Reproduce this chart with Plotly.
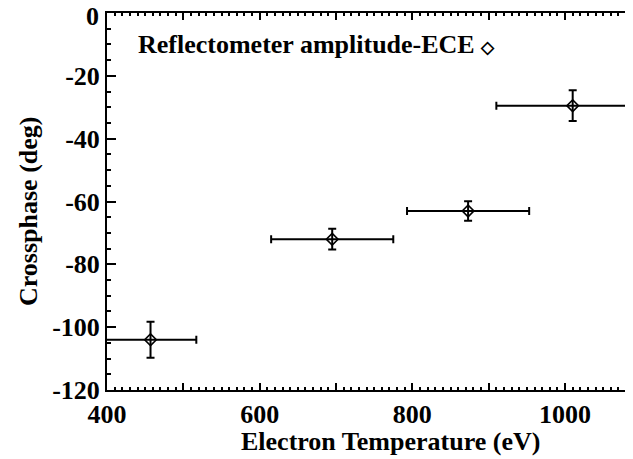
import plotly.graph_objects as go

# Data
temperature = [457, 695, 873, 1010]          # Electron temperature (eV)
temperature_err = [60, 80, 80, 100]           # half-width of horizontal error bars
crossphase = [-104, -72, -63, -29.5]          # Crossphase (deg)
crossphase_err = [5.7, 3.3, 3.1, 4.9]         # half-height of vertical error bars

x_tickvals = [400, 500, 600, 700, 800, 900, 1000]
x_ticktext = ["400", "", "600", "", "800", "", "1000"]
y_tickvals = [0, -20, -40, -60, -80, -100, -120]
y_ticktext = ["0", "-20", "-40", "-60", "-80", "-100", "-120"]

FONT = "Liberation Serif, Times New Roman, serif"

# page body has an 8px default margin, so the figure is sized to fit the window
W, H = 625, 451
L, T, B = 99, 5, 69
PW, PH = W - L, H - T - B

fig = go.Figure()
fig.add_trace(go.Scatter(
    x=temperature, y=crossphase, mode="markers",
    marker=dict(symbol="diamond-open", size=9, color="black", line=dict(width=1.6, color="black")),
    error_x=dict(type="data", array=temperature_err, color="black", thickness=2, width=4),
    error_y=dict(type="data", array=crossphase_err, color="black", thickness=2, width=4),
    showlegend=False, cliponaxis=True,
))

fig.update_layout(
    template="none",
    width=W, height=H,
    margin=dict(l=L, r=0, t=T, b=B, autoexpand=False),
    paper_bgcolor="white", plot_bgcolor="white",
    font=dict(family=FONT, size=26, color="black", weight="bold"),
    xaxis=dict(
        range=[400, 1089], tickvals=x_tickvals, ticktext=x_ticktext,
        ticks="inside", ticklen=7, tickwidth=2, tickcolor="black",
        showline=True, linewidth=2, linecolor="black", mirror="ticks",
        showgrid=False, zeroline=False, automargin=False,
        tickfont=dict(family=FONT, size=26, weight="bold"),
        minor=dict(dtick=10, ticks="inside", ticklen=3, tickwidth=1.5, tickcolor="black", showgrid=False),
        title=dict(text=""),
    ),
    yaxis=dict(
        range=[-120, 0], tickvals=y_tickvals, ticktext=y_ticktext,
        ticks="inside", ticklen=9, tickwidth=2, tickcolor="black",
        showline=True, linewidth=2, linecolor="black", mirror=False,
        showgrid=False, zeroline=False, automargin=False,
        tickfont=dict(family=FONT, size=26, weight="bold"),
        minor=dict(dtick=5, ticks="inside", ticklen=4, tickwidth=1.5, tickcolor="black", showgrid=False),
        title=dict(text=""),
    ),
    annotations=[
        # top tick label (plotly drops it at the very edge of the figure)
        dict(text=y_ticktext[0], xref="paper", yref="y", x=0, y=y_tickvals[0],
             xanchor="right", yanchor="middle", xshift=-6, yshift=-3,
             showarrow=False, font=dict(family=FONT, size=26, weight="bold")),
        dict(text="Electron Temperature (eV)", xref="paper", yref="paper",
             x=(390 - 107) / PW, y=-(441 - 390) / PH, xanchor="center", yanchor="middle",
             showarrow=False, font=dict(family=FONT, size=26, weight="bold")),
        dict(text="Crossphase (deg)", xref="paper", yref="paper",
             x=-(107 - 28) / PW, y=(390 - 212) / PH, xanchor="center", yanchor="middle",
             textangle=-90, showarrow=False, font=dict(family=FONT, size=26, weight="bold")),
        dict(text="Reflectometer amplitude-ECE <span style='font-size:17px'>◇</span>",
             xref="paper", yref="paper",
             x=(136 - 107) / PW, y=(390 - 45) / PH, xanchor="left", yanchor="middle",
             showarrow=False, font=dict(family=FONT, size=26, weight="bold")),
    ],
)

fig.write_html("out.html")
